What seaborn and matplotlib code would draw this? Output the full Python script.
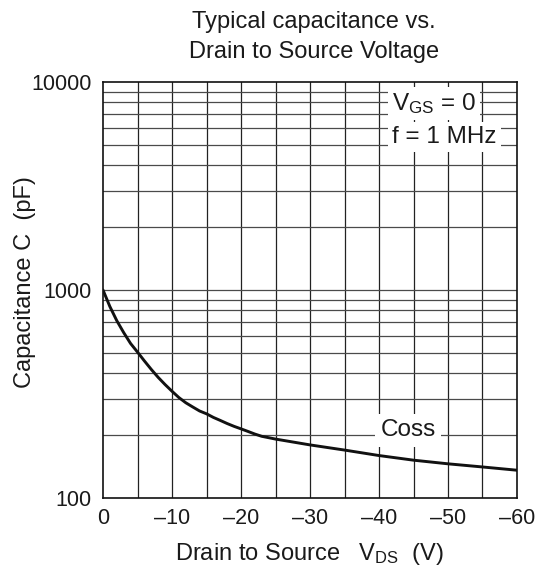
import matplotlib
matplotlib.use("Agg")
import matplotlib.pyplot as plt
import seaborn as sns
import pandas as pd
import numpy as np

# Data
vds = [0, -1, -2, -3, -4, -5, -6, -7, -8, -9, -10, -11, -12, -13, -14, -15,
       -16, -17, -18, -19, -20, -21, -22, -23, -24, -25,
       -30, -35, -40, -45, -50, -55, -60]
coss = [1000, 832, 712, 624, 553, 503, 456, 415, 380, 351, 326, 304, 287, 274, 262, 254,
        244, 236, 228, 221, 215, 209, 203, 198, 195, 192,
        180, 170, 160, 152, 146, 141, 136]
x_ticks = [0, -10, -20, -30, -40, -50, -60]
x_tick_labels = ["0", "\u201310", "\u201320", "\u201330", "\u201340", "\u201350", "\u201360"]
y_ticks = [100, 1000, 10000]
y_tick_labels = ["100", "1000", "10000"]

sns.set_theme(style="white")
plt.rcParams["font.family"] = ["Liberation Sans", "DejaVu Sans"]
plt.rcParams["mathtext.fontset"] = "custom"
plt.rcParams["mathtext.rm"] = "Liberation Sans"
plt.rcParams["mathtext.it"] = "Liberation Sans"

df = pd.DataFrame({"VDS": vds, "C": coss})

W, H = 549, 572
fig = plt.figure(figsize=(W / 100, H / 100), dpi=100)
ax = fig.add_axes([103 / W, 1 - 498 / H, 414 / W, 416 / H])

ax.set_yscale("log")
ax.set_xlim(0, -60)
ax.set_ylim(100, 10000)

txt = "#1a1a1a"
# grid
for v in np.arange(-5, -60, -5):
    ax.axvline(v, color="#222222", lw=0.9, zorder=1)
for dec in [100, 1000]:
    for m in range(2, 10):
        ax.axhline(dec * m, color="#4a4a4a", lw=0.9, zorder=1)
ax.axhline(1000, color="#4a4a4a", lw=0.9, zorder=1)

sns.lineplot(data=df, x="VDS", y="C", ax=ax, color="#111111", lw=2.1, zorder=3)

ax.set_xticks(x_ticks)
ax.set_xticklabels(x_tick_labels, fontsize=15.5)
ax.set_yticks(y_ticks)
ax.set_yticklabels(y_tick_labels, fontsize=15.5)
ax.yaxis.set_minor_locator(matplotlib.ticker.NullLocator())
ax.tick_params(axis="x", length=0, pad=7, colors=txt)
ax.tick_params(axis="y", length=0, pad=8, colors=txt)

for s in ax.spines.values():
    s.set_color("#111111")
    s.set_linewidth(1.2)

ax.set_xlabel("Drain to Source   V$_{\\mathrm{DS}}$  (V)", fontsize=17, color=txt)
ax.set_ylabel("Capacitance C  (pF)", fontsize=17, color=txt)
ax.xaxis.set_label_coords((309 - 103) / 414, (498 - 541) / 416)
ax.yaxis.set_label_coords((36 - 103) / 414, (498 - 282) / 416)

fig.text(314 / W, 1 - 22 / H, "Typical capacitance vs.", ha="center", va="center", fontsize=17, color=txt)
fig.text(314 / W, 1 - 52 / H, "Drain to Source Voltage", ha="center", va="center", fontsize=17, color=txt)

ax.text(-41.9, 7900, "V$_{\\mathrm{GS}}$ = 0", fontsize=17.5, ha="left", va="center", color=txt, zorder=5,
        bbox=dict(facecolor="white", edgecolor="none", pad=3))
ax.text(-41.9, 5450, "f = 1 MHz", fontsize=17.5, ha="left", va="center", color=txt, zorder=5,
        bbox=dict(facecolor="white", edgecolor="none", pad=3))
ax.text(-44.2, 212, "Coss", fontsize=17.5, ha="center", va="center", color=txt, zorder=5,
        bbox=dict(facecolor="white", edgecolor="none", pad=4))

fig.savefig("out.png", dpi=100, facecolor="white")
